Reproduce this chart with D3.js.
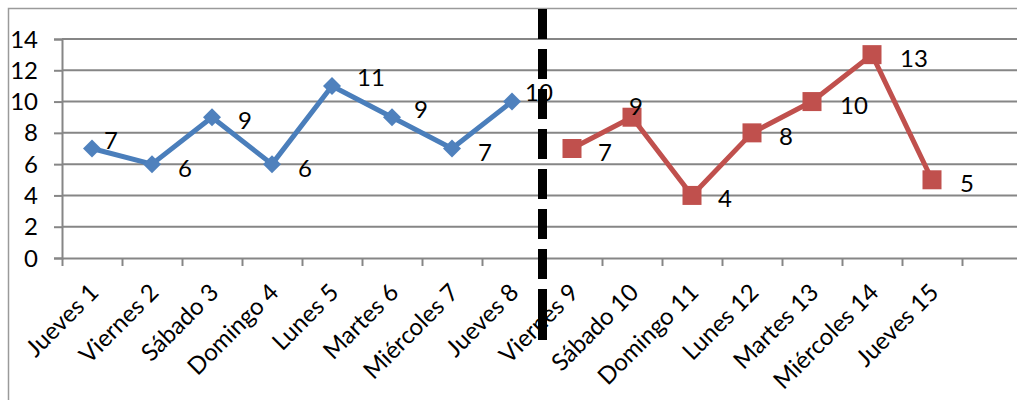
<!DOCTYPE html>
<html>
<head>
<meta charset="utf-8">
<script src="https://cdn.jsdelivr.net/npm/d3@7"></script>
<style>
  html, body { margin: 0; padding: 0; background: #fff; }
  svg { display: block; font-family: Lato, "Open Sans", sans-serif; }
</style>
</head>
<body>
<svg id="chart" width="1017" height="400"></svg>
<script>
// Days shown along the horizontal axis
const categories = ["Jueves 1", "Viernes 2", "Sábado 3", "Domingo 4", "Lunes 5", "Martes 6",
  "Miércoles 7", "Jueves 8", "Viernes 9", "Sábado 10", "Domingo 11", "Lunes 12",
  "Martes 13", "Miércoles 14", "Jueves 15"];

// First period (days 1–8) and second period (days 9–15)
const firstDays = ["Jueves 1", "Viernes 2", "Sábado 3", "Domingo 4", "Lunes 5", "Martes 6", "Miércoles 7", "Jueves 8"];
const firstValues = [7, 6, 9, 6, 11, 9, 7, 10];
const secondDays = ["Viernes 9", "Sábado 10", "Domingo 11", "Lunes 12", "Martes 13", "Miércoles 14", "Jueves 15"];
const secondValues = [7, 9, 4, 8, 10, 13, 5];

const yTicks = [0, 2, 4, 6, 8, 10, 12, 14];

// Label placement tweaks per point: [dx, dy] of the label's left edge / vertical centre
const firstLabelNudge = [[12, -7.5], [26, 5], [26, 4], [26, 5], [25, -7.5], [22, -7], [26, 4], [13, -8.5]];
const secondLabelNudge = [[26, 4], [-3, -10.5], [26, 4], [27, 4], [28, 4], [28, 4], [28, 4]];

const svg = d3.select("#chart");
const plot = { left: 62, top: 39, bottom: 258, right: 1022 };
const slots = categories.length + 1; // one empty slot after the last day
const fontSize = 24;
const capHalf = 8; // half the digit height, to centre labels on a y value

const x = d3.scaleBand().domain(d3.range(slots)).range([plot.left, plot.right]).padding(0);
const xEdge = d3.scaleLinear().domain([0, slots]).range([plot.left, plot.right]);
const y = d3.scaleLinear().domain([0, 14]).range([plot.bottom, plot.top]);
const cx = name => x(categories.indexOf(name)) + x.bandwidth() / 2;

const gridColor = "#868686";

// Outer frame
svg.append("rect")
  .attr("x", 8.5).attr("y", 8.5).attr("width", 1040).attr("height", 420)
  .attr("fill", "none").attr("stroke", "#9a9a9a").attr("stroke-width", 1.5);

// Horizontal gridlines
svg.append("g").selectAll("line").data(yTicks.filter(d => d > 0)).join("line")
  .attr("x1", plot.left).attr("x2", plot.right)
  .attr("y1", d => y(d)).attr("y2", d => y(d))
  .attr("stroke", gridColor).attr("stroke-width", 2);

// Y axis
const yAxis = svg.append("g").attr("transform", `translate(${plot.left},0)`)
  .call(d3.axisLeft(y).tickValues(yTicks).tickSize(8).tickPadding(16));
yAxis.attr("font-family", null).attr("font-size", null);
yAxis.select(".domain").attr("stroke", gridColor).attr("stroke-width", 2);
yAxis.selectAll(".tick line").attr("stroke", gridColor).attr("stroke-width", 2);
yAxis.selectAll(".tick text").attr("font-size", fontSize).attr("fill", "#000").attr("dy", null)
  .attr("y", capHalf);

// X axis (ticks between categories)
const xAxis = svg.append("g").attr("transform", `translate(0,${plot.bottom})`)
  .call(d3.axisBottom(xEdge).tickValues(d3.range(0, slots + 1)).tickSize(8).tickSizeOuter(0).tickFormat(""));
xAxis.select(".domain").attr("stroke", gridColor).attr("stroke-width", 2);
xAxis.selectAll(".tick line").attr("stroke", gridColor).attr("stroke-width", 2);

// Rotated category labels
svg.append("g").selectAll("text").data(categories).join("text")
  .attr("transform", d => `translate(${cx(d) + 8},${294}) rotate(-45)`)
  .attr("text-anchor", "end")
  .attr("font-size", fontSize)
  .attr("fill", "#000")
  .text(d => d);

function drawSeries(days, values, nudges, lineColor, fillColor, shape, size) {
  const pts = days.map((d, i) => ({ day: d, v: values[i], n: nudges[i] }));
  const g = svg.append("g");
  g.append("path").datum(pts)
    .attr("fill", "none").attr("stroke", lineColor).attr("stroke-width", 5)
    .attr("stroke-linejoin", "round")
    .attr("d", d3.line().x(p => cx(p.day)).y(p => y(p.v)));
  g.selectAll("path.mk").data(pts).join("path").attr("class", "mk")
    .attr("transform", p => `translate(${cx(p.day)},${y(p.v)})`)
    .attr("d", d3.symbol().type(shape).size(size))
    .attr("fill", fillColor);
  g.selectAll("text").data(pts).join("text")
    .attr("x", p => cx(p.day) + p.n[0])
    .attr("y", p => y(p.v) + p.n[1] + capHalf)
    .attr("font-size", fontSize).attr("fill", "#000")
    .text(p => p.v);
}

drawSeries(firstDays, firstValues, firstLabelNudge, "#4a7ebb", "#4f81bd", d3.symbolDiamond2, 206);
drawSeries(secondDays, secondValues, secondLabelNudge, "#c0504d", "#c0504d", d3.symbolSquare2, 460);

// Dashed divider between the two periods
const divX = (cx("Jueves 8") + cx("Viernes 9")) / 2 + 0.5;
svg.append("line")
  .attr("x1", divX).attr("x2", divX).attr("y1", 9).attr("y2", 340)
  .attr("stroke", "#000").attr("stroke-width", 9)
  .attr("stroke-dasharray", "30,10,30,10,30,10,30,10,30,10,30,10,30,10,60,0");
</script>
</body>
</html>
